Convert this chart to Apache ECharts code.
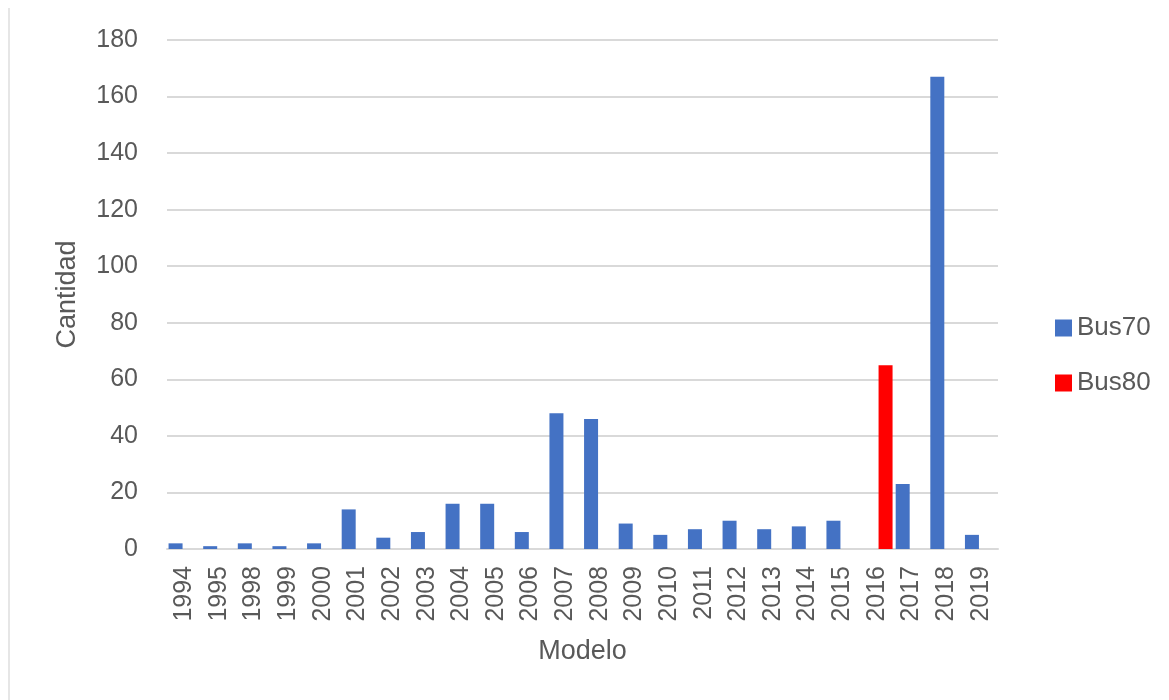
<!DOCTYPE html>
<html>
<head>
<meta charset="utf-8">
<script src="https://cdn.jsdelivr.net/npm/echarts@6/dist/echarts.min.js"></script>
<style>
html,body{margin:0;padding:0;background:#fff;}
#chart{width:1169px;height:700px;}
</style>
</head>
<body>
<div id="chart"></div>
<script>
var categories = ['1994','1995','1998','1999','2000','2001','2002','2003','2004','2005','2006','2007','2008','2009','2010','2011','2012','2013','2014','2015','2016','2017','2018','2019'];
var bus70 = [2,1,2,1,2,14,4,6,16,16,6,48,46,9,5,7,10,7,8,10,null,23,167,5];
var bus80 = [null,null,null,null,null,null,null,null,null,null,null,null,null,null,null,null,null,null,null,null,65,null,null,null];
var yTicks = [0,20,40,60,80,100,120,140,160,180];

var FONT = '"Liberation Sans", Arial, sans-serif';
var chart = echarts.init(document.getElementById('chart'));
chart.setOption({
  animation: false,
  textStyle: { fontFamily: FONT },
  graphic: [{
    type: 'line', shape: { x1: 9, y1: 8, x2: 9, y2: 700 },
    style: { stroke: '#e6e6e6', lineWidth: 2 }, silent: true
  }],
  grid: { left: 167, right: 171, top: 40, bottom: 151, containLabel: false },
  legend: {
    orient: 'vertical', left: 1050, top: 310,
    itemWidth: 17, itemHeight: 17, itemGap: 29,
    icon: 'rect',
    textStyle: { fontFamily: FONT, fontSize: 26, color: '#595959' },
    data: ['Bus70', 'Bus80']
  },
  xAxis: {
    type: 'category', data: categories,
    name: 'Modelo', nameLocation: 'middle', nameGap: 89,
    nameTextStyle: { fontFamily: FONT, fontSize: 27, color: '#595959' },
    axisLine: { lineStyle: { color: '#d9d9d9', width: 2 } },
    axisTick: { show: false },
    axisLabel: { rotate: 90, interval: 0, margin: 17, fontFamily: FONT, fontSize: 25, color: '#595959' }
  },
  yAxis: {
    type: 'value', min: yTicks[0], max: yTicks[yTicks.length-1], interval: 20,
    name: 'Cantidad', nameLocation: 'middle', nameGap: 86, nameRotate: 90,
    nameTextStyle: { fontFamily: FONT, fontSize: 27, color: '#595959' },
    axisLine: { show: false }, axisTick: { show: false },
    axisLabel: { margin: 29, fontFamily: FONT, fontSize: 25, color: '#595959' },
    splitLine: { lineStyle: { color: '#d9d9d9', width: 2 } }
  },
  series: [
    { name: 'Bus70', type: 'bar', data: bus70, barWidth: 14, barGap: '25%', itemStyle: { color: '#4472c4' } },
    { name: 'Bus80', type: 'bar', data: bus80, barWidth: 14, barGap: '25%', itemStyle: { color: '#ff0000' } }
  ]
});
</script>
</body>
</html>
